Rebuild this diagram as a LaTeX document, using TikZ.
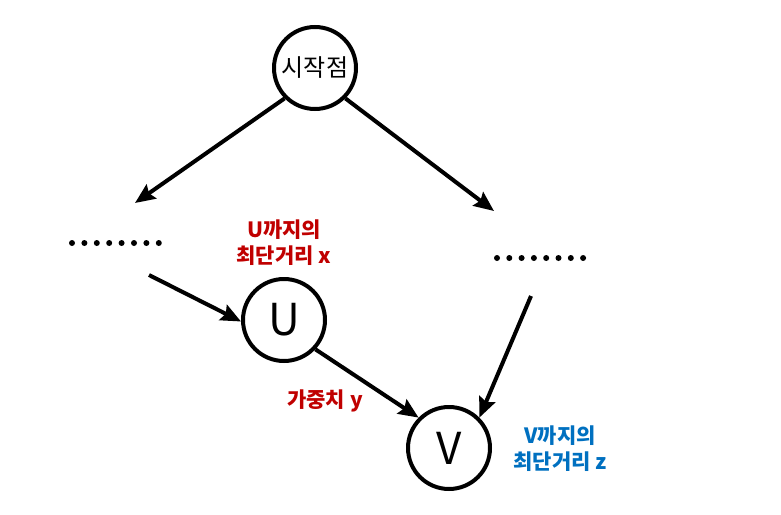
\documentclass[tikz,border=0pt]{standalone}
\usepackage{fontspec}
\setmainfont{Noto Sans CJK KR}
\usepackage{xcolor}
\usetikzlibrary{arrows.meta}
\definecolor{ink}{HTML}{000000}
\definecolor{udist}{HTML}{C00000}
\definecolor{vdist}{HTML}{0070C0}
\tikzset{
  every node/.style={font=\fontsize{24}{28}\selectfont},
  vtx/.style={circle,draw=ink,line width=4pt,minimum size=82pt,inner sep=0pt,fill=white},
  big/.style={vtx,font=\fontsize{44}{48}\selectfont},
  ar/.style={-{Stealth[length=20pt,width=17pt,inset=3pt]},draw=ink,line width=4pt},
  note/.style={font=\fontsize{21}{26}\selectfont\bfseries,align=center,inner sep=0pt},
  pt/.style={circle,fill=ink,inner sep=0pt,minimum size=6pt},
}

\begin{document}
\begin{tikzpicture}[x=1pt,y=-1pt]
\useasboundingbox (0,0) rectangle (781,514);

\node[vtx] (start) at (315,68) {시작점};
\node[big] (u) at (284,320) {U};
\node[big] (v) at (449,448) {V};

% dotted rows
\foreach \i in {1,...,8}
  \node[pt] (ldot\i) at ({72+(\i-1)*12.4},243) {};
\foreach \i in {1,...,8}
  \node[pt] (rdot\i) at ({497+(\i-1)*12.3},258) {};

\coordinate (lin) at (135,203);
\coordinate (rin) at (494,211);
\coordinate (lout) at (149,275);
\coordinate (rout) at (531,296);

\draw[ar] (start.225) -- (lin);
\draw[ar] (start.-45) -- (rin);
\draw[ar] (lout) -- (u.182);
\draw[ar] (u.-43) -- (v.135);
\draw[ar] (rout) -- (v.45);

\node[note,color=udist] (ulab) at (284,243) {U까지의\\최단거리 x};
\node[note,color=udist] (wlab) at (325,401) {가중치 y};
\node[note,color=vdist] (vlab) at (560,449) {V까지의\\최단거리 z};
\end{tikzpicture}
\end{document}
